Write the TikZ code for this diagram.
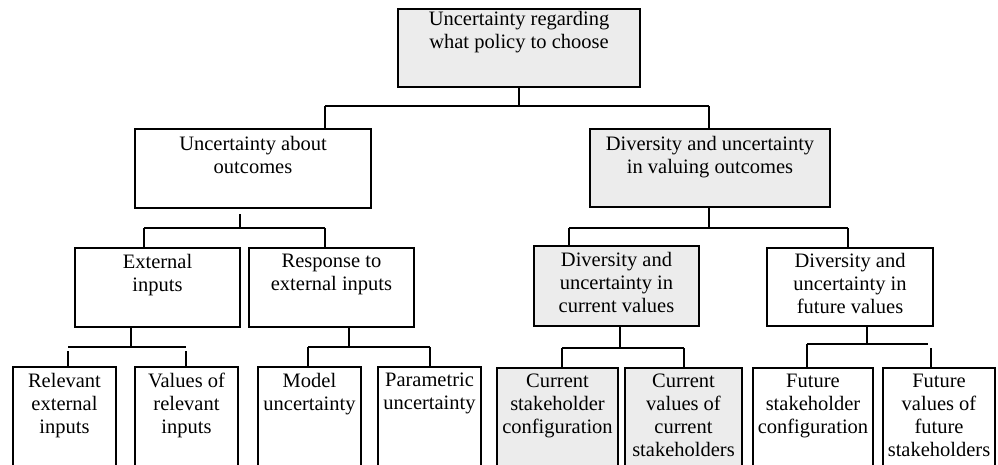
\documentclass[tikz,border=0pt]{standalone}
\usepackage{fontspec}
\setmainfont{Liberation Serif}
\begin{document}
\begin{tikzpicture}[x=1pt,y=-1pt,
  box/.style={draw=black, line width=1.8pt, rectangle, inner sep=0pt, outer sep=0pt, anchor=north west},
  graybox/.style={box, fill=gray!15},
  whitebox/.style={box, fill=white},
  lbl/.style={align=center, anchor=north, inner sep=0pt, font=\fontsize{20.5}{23}\selectfont, execute at begin node=\strut},
  conn/.style={draw=black, line width=1.8pt}]
\useasboundingbox (0,0) rectangle (998,465);
\clip (0,0) rectangle (998,465);
% boxes
\node[graybox, minimum width=242pt, minimum height=78pt] (top) at (398,9) {};
\node[whitebox, minimum width=236pt, minimum height=79pt] (uao) at (135,129) {};
\node[graybox, minimum width=240pt, minimum height=78pt] (dvo) at (590,129) {};
\node[whitebox, minimum width=165pt, minimum height=79pt] (ext) at (75,248) {};
\node[whitebox, minimum width=165pt, minimum height=79pt] (resp) at (249,248) {};
\node[graybox, minimum width=165pt, minimum height=80pt] (curv) at (534,246) {};
\node[whitebox, minimum width=166pt, minimum height=78pt] (futv) at (767,248) {};
\node[whitebox, minimum width=103pt, minimum height=120pt] (rel) at (13,367) {};
\node[whitebox, minimum width=103pt, minimum height=120pt] (val) at (135,367) {};
\node[whitebox, minimum width=103pt, minimum height=120pt] (mod) at (258,367) {};
\node[whitebox, minimum width=103pt, minimum height=120pt] (par) at (378,367) {};
\node[graybox, minimum width=121pt, minimum height=120pt] (cst) at (497,368) {};
\node[graybox, minimum width=117pt, minimum height=120pt] (cvc) at (625,368) {};
\node[whitebox, minimum width=120pt, minimum height=120pt] (fst) at (753,368) {};
\node[whitebox, minimum width=112pt, minimum height=120pt] (fvf) at (883,368) {};
% labels
\node[lbl] (ttop) at (519,11) {Uncertainty regarding\\what policy to choose};
\node[lbl] (tuao) at (253,136) {Uncertainty about\\outcomes};
\node[lbl] (tdvo) at (710,136) {Diversity and uncertainty\\in valuing outcomes};
\node[lbl] (text) at (157.5,254) {External\\inputs};
\node[lbl] (tresp) at (331.5,254) {Response to\\external inputs};
\node[lbl] (tcurv) at (616.5,252) {Diversity and\\uncertainty in\\current values};
\node[lbl] (tfutv) at (850,253) {Diversity and\\uncertainty in\\future values};
\node[lbl] (trel) at (64.5,373) {Relevant\\external\\inputs};
\node[lbl] (tval) at (186.5,373) {Values of\\relevant\\inputs};
\node[lbl] (tmod) at (309.5,373) {Model\\uncertainty};
\node[lbl] (tpar) at (429.5,373) {Parametric\\uncertainty};
\node[lbl] (tcst) at (557.5,374) {Current\\stakeholder\\configuration};
\node[lbl] (tcvc) at (683.5,374) {Current\\values of\\current\\stakeholders};
\node[lbl] (tfst) at (813,374) {Future\\stakeholder\\configuration};
\node[lbl] (tfvf) at (939,374) {Future\\values of\\future\\stakeholders};
% junction coordinates
\coordinate (a1) at (325,106);
\coordinate (a2) at (709,106);
\coordinate (b1) at (144,228);
\coordinate (b2) at (325,228);
\coordinate (c1) at (569,228);
\coordinate (c2) at (848,228);
\coordinate (d1) at (68,347);
\coordinate (d2) at (186,347);
\coordinate (e1) at (308,347);
\coordinate (e2) at (430,347);
\coordinate (f1) at (562,348);
\coordinate (f2) at (684,348);
\coordinate (g1) at (807,344);
\coordinate (g2) at (928,344);
\coordinate (g3) at (931,348);
% connectors level 1
\draw[conn] (top.south) -- (top.south |- a1);
\draw[conn] (a1) -- (a2);
\draw[conn] (a1) -- (a1 |- uao.north);
\draw[conn] (a2) -- (a2 |- dvo.north);
% level 2 left
\draw[conn] ([yshift=-6pt]uao.south -| 240,0) -- (240,228);
\draw[conn] (b1) -- (b2);
\draw[conn] (b1) -- (b1 |- ext.north);
\draw[conn] (b2) -- (b2 |- resp.north);
% level 2 right
\draw[conn] (dvo.south -| a2) -- (a2 |- c1);
\draw[conn] (c1) -- (c2);
\draw[conn] (c1) -- (c1 |- curv.north);
\draw[conn] (c2) -- (c2 |- futv.north);
% level 3
\draw[conn] (ext.south -| 131,0) -- (131,347);
\draw[conn] (d1) -- (d2);
\draw[conn] ([yshift=-4pt]d1) -- (d1 |- rel.north);
\draw[conn] ([yshift=-4pt]d2) -- (d2 |- val.north);
\draw[conn] (resp.south -| 349,0) -- (349,347);
\draw[conn] (e1) -- (e2);
\draw[conn] (e1) -- (e1 |- mod.north);
\draw[conn] (e2) -- (e2 |- par.north);
\draw[conn] (curv.south -| 620,0) -- (620,348);
\draw[conn] (f1) -- (f2);
\draw[conn] (f1) -- (f1 |- cst.north);
\draw[conn] (f2) -- (f2 |- cvc.north);
\draw[conn] (futv.south -| 867,0) -- (867,344);
\draw[conn] (g1) -- (g2);
\draw[conn] (g1) -- (g1 |- fst.north);
\draw[conn] (g3) -- (g3 |- fvf.north);
\end{tikzpicture}
\end{document}
